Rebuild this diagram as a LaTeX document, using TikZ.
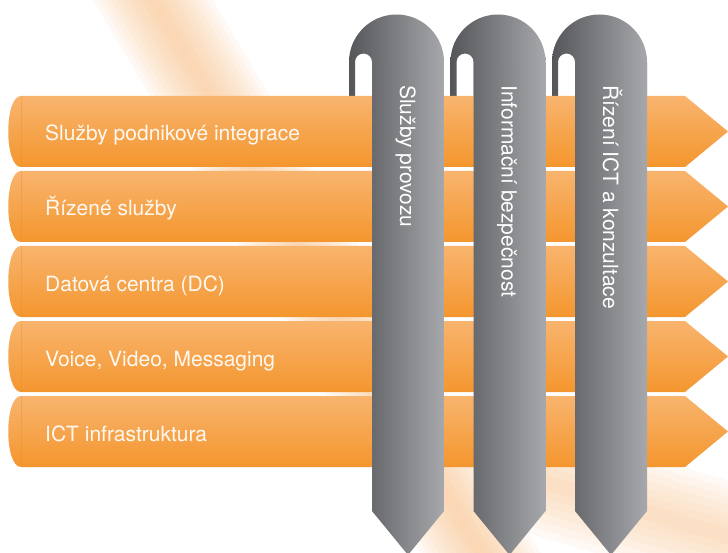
\documentclass[tikz,border=0pt]{standalone}
\usepackage{fontspec}
\setmainfont{TeX Gyre Heros}
\definecolor{barTop}{HTML}{F8B46E}
\definecolor{barBottom}{HTML}{F4962E}
\definecolor{barEdge}{HTML}{E88A25}
\definecolor{pilDark}{HTML}{55565A}
\definecolor{pilLight}{HTML}{A6A8AB}
\definecolor{glow}{HTML}{F7B77A}

\begin{document}
\begin{tikzpicture}[x=1pt,y=-1pt,
  bar/.style={top color=barTop, bottom color=barBottom},
  barlabel/.style={anchor=base west, inner sep=0pt, text=white, text opacity=.93,
    font=\fontsize{21}{25}\selectfont},
  pillarback/.style={left color=pilDark, right color=pilLight},
  pillarfront/.style={left color=pilLight!24!pilDark, right color=pilLight},
  pillarlabel/.style={anchor=base west, rotate=-90, inner sep=0pt, text=white,
    font=\fontsize{21}{25}\selectfont},
  beam/.style={fill=glow, opacity=.08}]
\useasboundingbox (0,0) rectangle (728,553);
\clip (0,0) rectangle (728,553);

% light in the background
\foreach \w in {6,12,...,60}{
  \fill[beam] ({150-\w},-5) -- ({150+\w},-5) -- ({485+\w},560) -- ({485-\w},560) -- cycle;
}
\foreach \w in {8,16,...,56}{
  \fill[beam] (520,{475-\w}) -- (740,{540-\w}) -- (740,{540+\w}) -- (520,{475+\w}) -- cycle;
}

% hooks of the pillars, behind the bars
\foreach \dx in {0,101.5,203}{
  \shade[pillarback, shift={(\dx,0)}] (349,100) -- (349,62) arc (180:360:47.5)
    -- (444,140) -- (372,140) -- (372,62) arc (0:-180:8.5) -- (355,100) -- cycle;
}

% bars
\foreach \txt [count=\i from 0] in {Služby podnikové integrace, Řízené služby,
    Datová centra (DC), {Voice, Video, Messaging}, ICT infrastruktura}{
  \pgfmathsetmacro\ya{96+75*\i}
  \pgfmathsetmacro\yb{\ya+71}
  \pgfmathsetmacro\ym{\ya+35.5}
  \shade[bar] (21,\ya) -- (685,\ya) -- (728,\ym) -- (685,\yb) -- (21,\yb)
    .. controls (4,\yb) and (4,\ya) .. (21,\ya) -- cycle;
  \draw[barEdge, opacity=.35, line width=.6pt] (21,\ya) -- (21,\yb);
  \node[barlabel] (bar\i) at (45,{\ym+9.5}) {\txt};
}

% pillars, in front of the bars
\foreach \dx/\txt [count=\i] in {0/Služby provozu, 101.5/Informační bezpečnost,
    203/Řízení ICT a konzultace}{
  \shade[pillarfront, shift={(\dx,0)}] (372,62) -- (444,62) -- (444,511)
    -- (408,555) -- (372,511) -- cycle;
  \node[pillarlabel] (pillar\i) at ({\dx+400},85) {\txt};
}
\end{tikzpicture}
\end{document}
